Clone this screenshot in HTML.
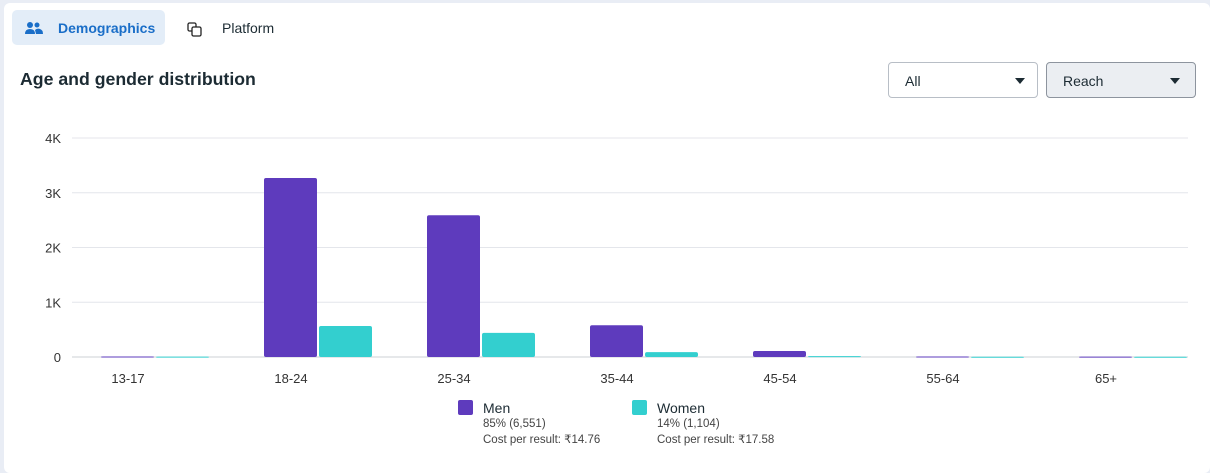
<!DOCTYPE html>
<html><head><meta charset="utf-8"><style>
body{margin:0;width:1210px;height:466px;background:#e9edf5;font-family:"Liberation Sans",sans-serif;overflow:hidden;position:relative}
.card{position:absolute;left:4px;top:3px;width:1206px;height:470px;background:#fff;border-radius:6px}
.abs{position:absolute}
</style></head><body>
<div class="card"></div>
<div class="abs" style="left:12px;top:10px;width:153px;height:35px;background:#e3edf8;border-radius:5px"></div>
<svg class="abs" style="left:25px;top:21px" width="18" height="14"><circle cx="5" cy="4" r="3" fill="#1a6ec8"/><circle cx="12" cy="4" r="2.5" fill="#1a6ec8"/><path d="M0 13 Q0 8 5 8 Q10 8 10 13Z" fill="#1a6ec8"/><path d="M10 9 Q12 7 15 8 Q18 9 18 13 L11 13Z" fill="#1a6ec8"/></svg>
<div class="abs" style="left:58px;top:20px;font-size:14px;font-weight:bold;color:#1a6ec8">Demographics</div>
<svg class="abs" style="left:187px;top:22px" width="16" height="16"><rect x="1" y="1" width="8" height="8" rx="1.5" fill="none" stroke="#222" stroke-width="1.3"/><rect x="5" y="5" width="9" height="9" rx="1.5" fill="#fff" stroke="#222" stroke-width="1.3"/></svg>
<div class="abs" style="left:222px;top:20px;font-size:14px;color:#1c2b33">Platform</div>
<div class="abs" style="left:20px;top:69px;font-size:17.7px;font-weight:bold;color:#1c2b33">Age and gender distribution</div>
<div class="abs" style="left:888px;top:62px;width:150px;height:36px;border:1px solid #b8bec6;border-radius:4px;box-sizing:border-box;font-size:14px;color:#1c2b33;padding:10px 16px">All<span style="position:absolute;right:12px;top:15px;border:5px solid transparent;border-top:6px solid #1c2b33;border-bottom:0"></span></div>
<div class="abs" style="left:1046px;top:62px;width:150px;height:36px;border:1px solid #8d949e;border-radius:4px;box-sizing:border-box;background:#ebeef2;font-size:14px;color:#1c2b33;padding:10px 16px">Reach<span style="position:absolute;right:15px;top:15px;border:5px solid transparent;border-top:6px solid #1c2b33;border-bottom:0"></span></div>
<svg id="chart" class="abs" style="left:0;top:0" width="1210" height="466"></svg>
<div class="abs" style="left:458px;top:400px;font-size:11.5px;color:#444;line-height:16px">
<span style="position:absolute;left:0;top:0;width:15px;height:15px;background:#5e3bbd;border-radius:2px"></span>
<div style="margin-left:25px;font-size:14px;color:#1c2b33">Men</div><div style="margin-left:25px">85% (6,551)</div><div style="margin-left:25px">Cost per result: ₹14.76</div></div>
<div class="abs" style="left:632px;top:400px;font-size:11.5px;color:#444;line-height:16px">
<span style="position:absolute;left:0;top:0;width:15px;height:15px;background:#33cfcf;border-radius:2px"></span>
<div style="margin-left:25px;font-size:14px;color:#1c2b33">Women</div><div style="margin-left:25px">14% (1,104)</div><div style="margin-left:25px">Cost per result: ₹17.58</div></div>
<script>
const categories=["13-17","18-24","25-34","35-44","45-54","55-64","65+"];
const menValues=[10,3270,2590,580,110,8,6];
const womenValues=[6,566,440,90,15,5,4];
const yTicks=[0,1000,2000,3000,4000];
const yTickLabels=["0","1K","2K","3K","4K"];
const svg=document.getElementById('chart');const NS='http://www.w3.org/2000/svg';
const y0=357,pxPerUnit=54.75/1000,x0=73.5,step=163,bw=53;
const y=v=>y0-v*pxPerUnit;const xc=i=>x0+step*(i+0.5);
function mk(t,a){const e=document.createElementNS(NS,t);for(const k in a)e.setAttribute(k,a[k]);svg.appendChild(e);return e;}
yTicks.forEach((t,i)=>{const l=mk('line',{x1:72,x2:1188,y1:y(t),y2:y(t),stroke:i==0?'#ccd0d5':'#e4e6eb','stroke-width':1});


const tx=mk('text',{x:61,y:y(t)+5,'text-anchor':'end','font-size':13,fill:'#333','font-family':'Liberation Sans'});tx.textContent=yTickLabels[i];

});
categories.forEach((c,i)=>{
const m=mk('rect',{x:xc(i)-bw-1,y:y(menValues[i]),width:bw,height:Math.max(1,y0-y(menValues[i])),rx:2,fill:'#5e3bbd'});


const w=mk('rect',{x:xc(i)+1,y:y(womenValues[i]),width:bw,height:Math.max(1,y0-y(womenValues[i])),rx:2,fill:'#33cfcf'});


const tx=mk('text',{x:xc(i)-27,y:383,'text-anchor':'middle','font-size':13,fill:'#333','font-family':'Liberation Sans'});tx.textContent=c;

});
</script>
</body></html>
